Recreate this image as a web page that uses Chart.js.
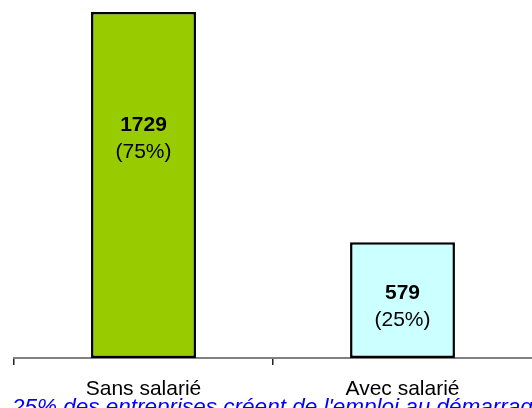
<!DOCTYPE html>
<html>
<head>
<meta charset="utf-8">
<script src="https://cdn.jsdelivr.net/npm/chart.js@4/dist/chart.umd.min.js"></script>
<style>
  html, body { margin: 0; padding: 0; background: #fff; overflow: hidden; }
  #wrap { width: 532px; height: 408px; position: relative; }
</style>
</head>
<body>
<div id="wrap"><canvas id="myChart"></canvas></div>
<script>
// data
const categories = ['Sans salarié', 'Avec salarié'];
const counts = [1729, 579];
const barColors = ['#99CC00', '#CCFFFF'];
const caption = "25% des entreprises créent de l'emploi au démarrage";

const FONT = "'Liberation Sans', Arial, sans-serif";

// value + percentage written inside each bar
const barLabels = {
    id: 'barLabels',
    afterDatasetsDraw(chart) {
        const ctx = chart.ctx;
        const total = counts.reduce((a, b) => a + b, 0);
        const where = [0.365, 0.55]; // label centre, as share of bar height from the top
        chart.getDatasetMeta(0).data.forEach((bar, i) => {
            const h = bar.base - bar.y;
            const cy = bar.y + h * where[i];
            ctx.save();
            ctx.fillStyle = '#000';
            ctx.textAlign = 'center';
            ctx.textBaseline = 'middle';
            ctx.font = 'bold 21px ' + FONT;
            ctx.fillText(counts[i], bar.x, cy - 13);
            ctx.font = '21px ' + FONT;
            ctx.fillText('(' + Math.round(counts[i] / total * 100) + '%)', bar.x, cy + 14);
            ctx.restore();
        });
    }
};

// blue italic caption under the axis, runs off the right edge like the original
const captionText = {
    id: 'captionText',
    afterDraw(chart) {
        const ctx = chart.ctx;
        ctx.save();
        ctx.fillStyle = '#0000FF';
        ctx.font = 'italic 22.5px ' + FONT;
        ctx.textAlign = 'left';
        ctx.textBaseline = 'alphabetic';
        ctx.fillText(caption, 12, chart.chartArea.bottom + 56);
        ctx.restore();
    }
};

const data = {
    labels: categories,
    datasets: [{
        data: counts,
        backgroundColor: barColors,
        borderColor: '#000',
        borderWidth: 2.5,
        borderSkipped: false,
        barPercentage: 1,
        categoryPercentage: 0.405
    }]
};

const config = {
    type: 'bar',
    data: data,
    options: {
        responsive: true,
        maintainAspectRatio: false,
        animation: false,
        layout: { padding: { left: 14, right: 0, top: 12, bottom: 0 } },
        plugins: {
            legend: { display: false },
            tooltip: { enabled: false }
        },
        scales: {
            y: { display: false, min: 0, max: 1729 },
            x: {
                grid: {
                    offset: true,
                    drawOnChartArea: false,
                    drawTicks: true,
                    tickLength: 7,
                    // the last boundary tick sits off the picture in the original
                    color: (c) => c.index < categories.length ? '#222' : 'rgba(0,0,0,0)',
                    lineWidth: 1.5
                },
                border: { color: '#808080', width: 2 },
                ticks: {
                    color: '#000',
                    padding: 12,
                    font: { family: FONT, size: 21 }
                },
                afterFit(scale) { scale.height = 50; }
            }
        }
    },
    plugins: [barLabels, captionText]
};

const myChart = new Chart(document.getElementById('myChart'), config);
</script>
</body>
</html>
